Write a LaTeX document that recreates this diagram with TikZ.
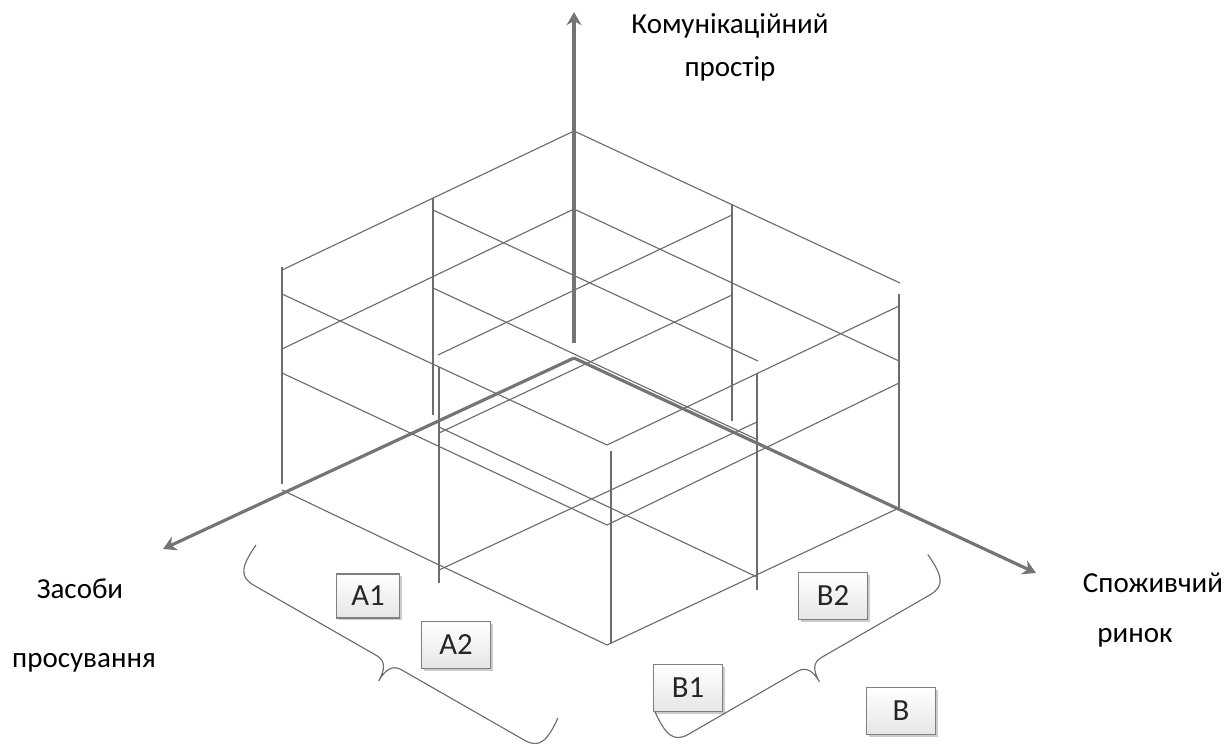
\documentclass[tikz,border=0pt]{standalone}
\usepackage{fontspec}
\setmainfont{Carlito}
\usetikzlibrary{arrows.meta,shadows}

\definecolor{linegray}{HTML}{6D6D6D}
\definecolor{axisgray}{HTML}{747474}
\definecolor{boxgray}{HTML}{7F7F7F}

\tikzset{
  gridline/.style={linegray, line width=0.65pt},
  axisline/.style={axisgray, line width=1.8pt},
  bracel/.style={linegray, line width=0.65pt},
  axlabel/.style={font=\fontsize{16.5}{19}\selectfont, inner sep=0pt},
  lbox/.style={draw=boxgray, line width=0.6pt, top color=white, bottom color=gray!20,
    minimum width=1.38cm, minimum height=0.94cm, inner sep=0pt,
    font=\fontsize{17.5}{20}\selectfont, text=black!85,
    drop shadow={shadow xshift=1.2pt, shadow yshift=-1.2pt, fill=black, opacity=0.2}}
}

\begin{document}
\begin{tikzpicture}[x=0.02cm,y=-0.02cm,>={Stealth[length=7.5pt,width=8.5pt]}]
\useasboundingbox (0,0) rectangle (1225,744);

% verticals
\draw[gridline] (282,267) -- (282,484);
\draw[gridline] (433,198) -- (433,415);
\draw[gridline] (439,367) -- (439,583);
\draw[gridline] (732,204) -- (732,421);
\draw[gridline] (757,373) -- (757,590);
\draw[gridline] (899,294) -- (899,508);
\draw[gridline] (611,451) -- (611,643);

% top level
\draw[gridline] (282,270) -- (574,131) -- (900,283);
\draw[gridline] (433,210) -- (758,361);
\draw[gridline] (438,355) -- (732,215);
% second level
\draw[gridline] (282,349) -- (574,209) -- (899,361);
\draw[gridline] (282,294) -- (607,445) -- (899,306);
\draw[gridline] (282,373) -- (607,525) -- (899,383);
% inner lines near the origin
\draw[gridline] (433,288) -- (758,440);
\draw[gridline] (439,433) -- (732,295);
\draw[gridline] (439,427) -- (757,577);
\draw[gridline] (439,570) -- (757,422);
% bottom level
\draw[gridline] (282,490) -- (607,645) -- (899,508);

% axes
\coordinate (O) at (574,358);
\coordinate (zb) at (574,343);
\coordinate (zt) at (574,12);
\coordinate (xt) at (163,549);
\coordinate (yt) at (1036,573);
\draw[axisline,->] (zb) -- (zt);
\draw[axisline,->] (O) -- (xt);
\draw[axisline,->] (O) -- (yt);

% axis labels
\node[axlabel, anchor=base] (kom) at (730,33) {Комунікаційний};
\node[axlabel, anchor=base] (prost) at (730,76) {простір};
\node[axlabel, anchor=base] (zas) at (80,598) {Засоби};
\node[axlabel, anchor=base] (prosuv) at (84,667) {просування};
\node[axlabel, anchor=base] (spoz) at (1153,592) {Споживчий};
\node[axlabel, anchor=base] (rynok) at (1135,642) {ринок};

% braces
\begin{scope}[shift={(256,545)},rotate=-29.8]
\draw[bracel] (0,0) .. controls (-2,24) and (0,36) .. (18,36) -- (160,36)
  .. controls (170,36) and (174,44) .. (174,57)
  .. controls (174,44) and (178,36) .. (188,36) -- (330,36)
  .. controls (348,36) and (350,24) .. (348,0);
\end{scope}
\begin{scope}[shift={(655,712)},rotate=30]
\draw[bracel] (0,0) .. controls (-2,24) and (0,36) .. (18,36) -- (144,36)
  .. controls (154,36) and (157.5,44) .. (157.5,56)
  .. controls (157.5,44) and (161,36) .. (171,36) -- (297,36)
  .. controls (315,36) and (317,24) .. (315,0);
\end{scope}

% boxes
\node[lbox, minimum width=1.26cm, minimum height=0.88cm] (a1) at (368,596) {A1};
\node[lbox] (a2) at (456,645) {A2};
\node[lbox] (b2) at (833,596) {B2};
\node[lbox] (b1) at (688,688) {B1};
\node[lbox] (b) at (901,711) {B};
\end{tikzpicture}
\end{document}
